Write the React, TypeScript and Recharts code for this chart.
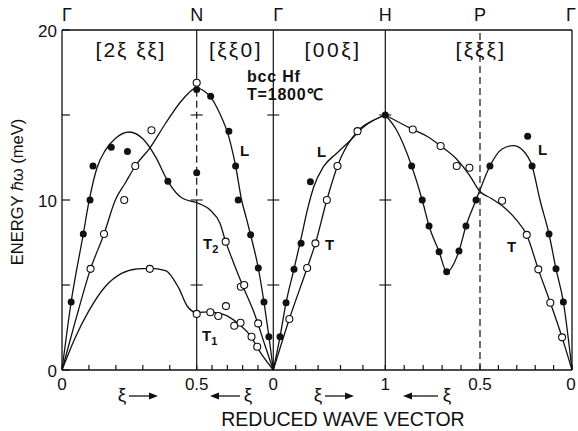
import { ComposedChart, Line, Scatter, XAxis, YAxis, ReferenceLine } from "recharts";

// Path layout. Segment lengths follow |q| so the axis reads like the original:
// Γ-N [2ξ ξξ], N-Γ [ξξ0], Γ-H [00ξ], H-P [ξξξ], P-Γ [ξξξ]
const SEG_START = [0, 134.7, 211.3, 323.3, 418];
const SEG_LEN = [134.7, 76.6, 112, 94.7, 92];
const SEG_FROM = [0, 0.5, 0, 1, 0.5];
const SEG_TO = [0.5, 0, 1, 0.5, 0];
const PATH_END = 510;

const POINT_NAMES = ["Γ", "N", "Γ", "H", "P", "Γ"];
const POINT_XI = ["0", "0.5", "0", "1", "0.5", "0"];
const SEG_TICKS = [
  [0, 0.1, 0.2, 0.3, 0.4, 0.5],
  [0.4, 0.3, 0.2, 0.1, 0],
  [0.2, 0.4, 0.6, 0.8, 1],
  [0.9, 0.8, 0.7, 0.6, 0.5],
  [0.4, 0.3, 0.2, 0.1, 0],
];
const Y_TICKS = [0, 5, 10, 15, 20];

// measured phonons [ξ, meV], per segment
const FILLED = [
  [[0.034, 4.0], [0.079, 8.0], [0.104, 10.0], [0.115, 12.0], [0.183, 13.1], [0.243, 12.85], [0.393, 11.1], [0.5, 11.6], [0.5, 16.5]],
  [[0.409, 16.1], [0.29, 14.05], [0.246, 12.0], [0.229, 10.0], [0.148, 7.95], [0.098, 6.0], [0.061, 4.0], [0.029, 1.95]],
  [[0.06, 1.95], [0.114, 3.96], [0.185, 5.92], [0.248, 7.45], [0.331, 11.08], [1, 15]],
  [[0.861, 12.0], [0.805, 10.0], [0.769, 8.47], [0.716, 6.96], [0.676, 5.78], [0.611, 7.0], [0.574, 8.47], [0.521, 10.0]],
  [[0.446, 12.0], [0.241, 13.75], [0.217, 12.0], [0.125, 8.0], [0.087, 5.95], [0.047, 4.0]],
];
const OPEN = [
  [[0.106, 5.95], [0.156, 8.0], [0.231, 10.0], [0.272, 12.0], [0.332, 14.1], [0.5, 16.9], [0.326, 5.95], [0.5, 3.3]],
  [[0.311, 7.55], [0.212, 4.9], [0.19, 5.0], [0.411, 3.4], [0.359, 3.18], [0.309, 3.76], [0.255, 2.6], [0.214, 2.78], [0.142, 1.96], [0.105, 1.37], [0.099, 2.74]],
  [[0.143, 3.0], [0.302, 6.0], [0.376, 7.45], [0.478, 10.0], [0.573, 12.0], [0.752, 14.05]],
  [[0.855, 14.15], [0.708, 13.18], [0.623, 12.0], [0.556, 11.9]],
  [[0.38, 9.96], [0.246, 7.95], [0.183, 5.92], [0.118, 3.96], [0.054, 1.92]],
];

// dispersion curves, [segment, [[ξ, meV]...]] in path order
const CURVES = [
  [
    [0, [[0, 0], [0.034, 4], [0.079, 8], [0.1, 9.9], [0.13, 11.9], [0.16, 12.9], [0.2, 13.65], [0.25, 14.0], [0.3, 13.6], [0.347, 12.55], [0.393, 11.1], [0.447, 10.1], [0.5, 9.84]]],
    [1, [[0.413, 9.41], [0.348, 8.63], [0.311, 7.55], [0.262, 6.37], [0.197, 4.9], [0.12, 3.24], [0.055, 1.47], [0, 0]]],
  ],
  [
    [0, [[0, 0], [0.05, 2.9], [0.106, 5.95], [0.156, 8.0], [0.198, 10.0], [0.235, 11.0], [0.272, 12.0], [0.328, 13.1], [0.384, 14.5], [0.447, 15.9], [0.5, 16.6]]],
    [1, [[0.45, 16.4], [0.409, 16.05], [0.35, 15.1], [0.29, 13.7], [0.246, 12.0], [0.207, 10.0], [0.175, 8.9], [0.148, 7.94], [0.098, 6.0], [0.061, 4.0], [0.029, 2.0], [0, 0]]],
  ],
  [
    [0, [[0, 0], [0.049, 1.9], [0.098, 3.43], [0.16, 4.9], [0.223, 5.7], [0.28, 5.95], [0.326, 5.98], [0.384, 5.85], [0.434, 4.8], [0.465, 3.75], [0.5, 3.38]]],
    [1, [[0.413, 3.42], [0.36, 3.35], [0.305, 3.2], [0.26, 2.95], [0.218, 2.65], [0.153, 2.06], [0.088, 1.08], [0, 0]]],
  ],
  [
    [2, [[0, 0], [0.06, 1.95], [0.114, 3.96], [0.185, 5.95], [0.25, 7.8], [0.3, 9.3], [0.36, 10.75], [0.448, 11.96], [0.567, 12.75], [0.687, 13.5], [0.806, 14.3], [1, 15]]],
  ],
  [
    [2, [[0, 0], [0.143, 3.0], [0.302, 6.0], [0.376, 7.45], [0.478, 10.0], [0.573, 12.0], [0.752, 14.05], [0.88, 14.65], [1, 15]]],
  ],
  [
    [3, [[1, 15], [0.94, 14.1], [0.861, 12.0], [0.805, 10.0], [0.769, 8.47], [0.716, 6.96], [0.676, 5.78], [0.611, 7.0], [0.574, 8.47], [0.521, 10.0]]],
    [4, [[0.5, 10.6], [0.446, 12.0], [0.38, 13.0], [0.319, 13.2], [0.265, 12.9], [0.217, 12.0], [0.174, 10.0], [0.125, 8.0], [0.087, 5.95], [0.047, 4.0], [0, 0]]],
  ],
  [
    [3, [[1, 15], [0.855, 14.15], [0.78, 13.75], [0.708, 13.18], [0.623, 12.4], [0.556, 11.47]]],
    [4, [[0.5, 10.5], [0.44, 10.1], [0.373, 9.6], [0.3, 8.8], [0.246, 7.94], [0.183, 5.92], [0.118, 3.96], [0.054, 1.92], [0, 0]]],
  ],
];

const INK = "#111";
const FONT = "'Liberation Sans', Arial, sans-serif";
const PLOT_LEFT = 62;

function toU(seg: number, xi: number) {
  return SEG_START[seg] + (SEG_LEN[seg] * (xi - SEG_FROM[seg])) / (SEG_TO[seg] - SEG_FROM[seg]);
}

function toRows(sets: number[][][]) {
  return sets.flatMap((pts, seg) => pts.map(([xi, e]) => ({ u: toU(seg, xi), e })));
}

const MAJOR_U = [0, ...SEG_START.slice(1), PATH_END];
const MINOR_U = SEG_TICKS.flatMap((ts, seg) => ts.map((xi) => toU(seg, xi)));
const filledRows = toRows(FILLED);
const openRows = toRows(OPEN);
const curveRows = CURVES.map((parts) =>
  parts.flatMap(([seg, pts]: any) => pts.map(([xi, e]: number[]) => ({ u: toU(seg, xi), e })))
);

function majorIndex(v: number) {
  return MAJOR_U.findIndex((m) => Math.abs(m - v) < 0.5);
}

// Γ glyphs sit with their stem on the line; the last one is pulled in off the edge
function nameOffset(i: number) {
  if (POINT_NAMES[i] !== "Γ") return 0;
  return i === POINT_NAMES.length - 1 ? -1 : 5;
}

const BottomTick = ({ x, y, payload }: any) => {
  const i = majorIndex(payload.value);
  return (
    <g>
      <line x1={x} x2={x} y1={y} y2={y - 5} stroke={INK} strokeWidth={1.2} />
      {i >= 0 && (
        <text x={i === POINT_XI.length - 1 ? x - 1 : x} y={y + 20} textAnchor="middle" fontSize={17} fontFamily={FONT} fill={INK}>
          {POINT_XI[i]}
        </text>
      )}
    </g>
  );
};

const LeftTick = ({ x, y, payload }: any) => (
  <g>
    <line x1={x} x2={x + 8} y1={y} y2={y} stroke={INK} strokeWidth={1.2} />
    {payload.value % 10 === 0 && (
      <text x={x - 5} y={y + 7} textAnchor="end" fontSize={17} fontFamily={FONT} fill={INK}>
        {payload.value}
      </text>
    )}
  </g>
);

const RightTick = ({ x, y }: any) => <line x1={x} x2={x - 7} y1={y} y2={y} stroke={INK} strokeWidth={1.2} />;

const FilledDot = (p: any) => <circle cx={p.cx} cy={p.cy} r={3.5} fill={INK} />;
const OpenDot = (p: any) => <circle cx={p.cx} cy={p.cy} r={3.5} fill="#fff" stroke={INK} strokeWidth={1.1} />;

function Arrow({ x1, x2, y }: { x1: number; x2: number; y: number }) {
  const d = x2 > x1 ? 1 : -1;
  return (
    <g stroke={INK} strokeWidth={1.3} fill={INK}>
      <line x1={x1} x2={x2 - d * 6} y1={y} y2={y} />
      <path d={`M${x2},${y} L${x2 - d * 9},${y - 3.5} L${x2 - d * 9},${y + 3.5} Z`} stroke="none" />
    </g>
  );
}

const CROSS_LINES = [SEG_START[1], SEG_START[2], SEG_START[3]];

export default function App() {
  const axisLine = { stroke: INK, strokeWidth: 1.3 };
  return (
    <div style={{ position: "absolute", left: 0, top: 0, width: 578, height: 431, background: "#fff" }}>
      <ComposedChart width={578} height={431} margin={{ top: 10, right: 0, left: 22, bottom: 31 }}>
        <XAxis
          dataKey="u"
          type="number"
          domain={[0, PATH_END]}
          ticks={MINOR_U}
          interval={0}
          tick={BottomTick}
          tickSize={0}
          tickMargin={0}
          tickLine={false}
          axisLine={axisLine}
          height={30}
        />
        <XAxis
          xAxisId="top"
          orientation="top"
          type="number"
          domain={[0, PATH_END]}
          ticks={MAJOR_U}
          tick={false}
          tickLine={false}
          axisLine={axisLine}
          height={20}
        />
        <YAxis
          dataKey="e"
          type="number"
          domain={[0, 20]}
          ticks={Y_TICKS}
          interval={0}
          tick={LeftTick}
          tickSize={0}
          tickMargin={0}
          tickLine={false}
          axisLine={axisLine}
          width={40}
        />
        <YAxis
          yAxisId="right"
          orientation="right"
          type="number"
          domain={[0, 20]}
          ticks={[5, 10, 15]}
          interval={0}
          tick={RightTick}
          tickSize={0}
          tickMargin={0}
          tickLine={false}
          axisLine={axisLine}
          width={6}
        />

        {/* symmetry-point lines */}
        <ReferenceLine segment={[{ x: SEG_START[1], y: 0 }, { x: SEG_START[1], y: 9.6 }]} stroke={INK} strokeWidth={1.2} />
        <ReferenceLine segment={[{ x: SEG_START[1], y: 9.6 }, { x: SEG_START[1], y: 16.8 }]} stroke={INK} strokeWidth={1.2} strokeDasharray="7 4" />
        <ReferenceLine segment={[{ x: SEG_START[1], y: 16.8 }, { x: SEG_START[1], y: 20 }]} stroke={INK} strokeWidth={1.2} />
        <ReferenceLine x={SEG_START[2]} stroke={INK} strokeWidth={1.2} />
        <ReferenceLine x={SEG_START[3]} stroke={INK} strokeWidth={1.2} />
        <ReferenceLine x={SEG_START[4]} stroke={INK} strokeWidth={1.2} strokeDasharray="7 4" />
        {CROSS_LINES.flatMap((u) =>
          [5, 10, 15].map((e) => (
            <ReferenceLine key={`${u}-${e}`} segment={[{ x: u - 6, y: e }, { x: u + 6, y: e }]} stroke={INK} strokeWidth={1.1} />
          ))
        )}

        {curveRows.map((rows, i) => (
          <Line key={i} data={rows} dataKey="e" type="monotone" stroke={INK} strokeWidth={1.3} dot={false} isAnimationActive={false} />
        ))}
        <Scatter data={openRows} dataKey="e" shape={OpenDot} isAnimationActive={false} />
        <Scatter data={filledRows} dataKey="e" shape={FilledDot} isAnimationActive={false} />
      </ComposedChart>

      <svg width={578} height={431} style={{ position: "absolute", left: 0, top: 0, pointerEvents: "none" }} fontFamily={FONT} fill={INK}>
        {MAJOR_U.map((u, i) => (
          <text key={i} x={PLOT_LEFT + u + nameOffset(i)} y={21} textAnchor="middle" fontSize={18}>
            {POINT_NAMES[i]}
          </text>
        ))}

        <text x={131} y={57} textAnchor="middle" fontSize={21} letterSpacing={2}>[2ξ  ξξ]</text>
        <text x={236} y={57} textAnchor="middle" fontSize={21} letterSpacing={2.5}>[ξξ0]</text>
        <text x={333} y={57} textAnchor="middle" fontSize={21} letterSpacing={2.5}>[00ξ]</text>
        <text x={481} y={57} textAnchor="middle" fontSize={21} letterSpacing={2.5}>[ξξξ]</text>

        <text x={247} y={82} fontSize={16} fontWeight="bold" letterSpacing={0.8}>bcc  Hf</text>
        <text x={247} y={100} fontSize={16} fontWeight="bold" letterSpacing={0.8}>T=1800℃</text>

        <text x={240} y={156} fontSize={15} fontWeight="bold">L</text>
        <text x={203} y={249} fontSize={15} fontWeight="bold">T<tspan fontSize={11} dy={4}>2</tspan></text>
        <text x={202} y={341} fontSize={15} fontWeight="bold">T<tspan fontSize={11} dy={4}>1</tspan></text>
        <text x={317} y={157} fontSize={15} fontWeight="bold">L</text>
        <text x={325} y={250} fontSize={15} fontWeight="bold">T</text>
        <text x={538} y={155} fontSize={15} fontWeight="bold">L</text>
        <text x={507} y={252} fontSize={15} fontWeight="bold">T</text>

        <text x={122} y={401} textAnchor="middle" fontSize={19}>ξ</text>
        <Arrow x1={129} x2={158} y={396} />
        <Arrow x1={240} x2={210} y={396} />
        <text x={248} y={401} textAnchor="middle" fontSize={19}>ξ</text>
        <text x={318} y={401} textAnchor="middle" fontSize={19}>ξ</text>
        <Arrow x1={325} x2={354} y={396} />
        <Arrow x1={438} x2={403} y={396} />
        <text x={447} y={401} textAnchor="middle" fontSize={19}>ξ</text>

        <text x={343} y={426} textAnchor="middle" fontSize={19.5}>REDUCED  WAVE  VECTOR</text>
        <text transform="translate(23,192) rotate(-90)" textAnchor="middle" fontSize={16.5}>ENERGY  ℏω  (meV)</text>
      </svg>
    </div>
  );
}
